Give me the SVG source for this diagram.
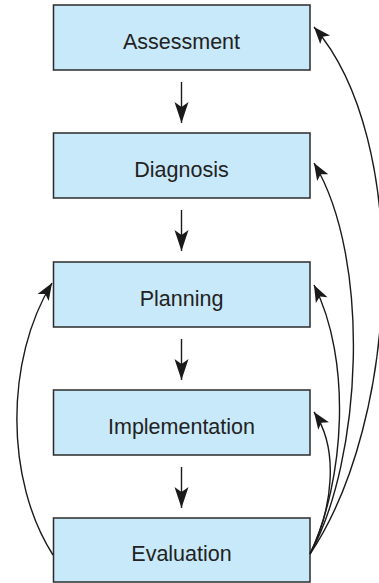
<svg xmlns="http://www.w3.org/2000/svg" width="379" height="583" viewBox="0 0 379 583">
<defs>
<style>
.box{fill:#c8e9f9;stroke:#2b2b2b;stroke-width:1.5}
.lbl{font-family:"Liberation Sans",Arial,sans-serif;font-size:21.5px;fill:#222;text-anchor:middle}
.ln{fill:none;stroke:#1a1a1a;stroke-width:1.4}
</style>
<marker id="big" markerUnits="userSpaceOnUse" markerWidth="24" markerHeight="16" refX="21" refY="7" orient="auto" overflow="visible">
<path d="M0,0 L21,7 L0,14 L5,7 Z" fill="#1a1a1a"/>
</marker>
<marker id="sm" markerUnits="userSpaceOnUse" markerWidth="20" markerHeight="14" refX="17" refY="6.5" orient="auto" overflow="visible">
<path d="M0,0 L17,6.5 L0,13 L4,6.5 Z" fill="#1a1a1a"/>
</marker>
</defs>
<g id="assessment"><rect class="box" x="53.5" y="5" width="256.5" height="65"/><text class="lbl" x="181.5" y="49">Assessment</text></g>
<g id="diagnosis"><rect class="box" x="53.5" y="133" width="256.5" height="65"/><text class="lbl" x="181.5" y="177">Diagnosis</text></g>
<g id="planning"><rect class="box" x="53.5" y="262" width="256.5" height="65"/><text class="lbl" x="181.5" y="306">Planning</text></g>
<g id="implementation"><rect class="box" x="53.5" y="390" width="256.5" height="65"/><text class="lbl" x="181.5" y="434">Implementation</text></g>
<g id="evaluation"><rect class="box" x="53.5" y="518" width="256.5" height="64"/><text class="lbl" x="181.5" y="561">Evaluation</text></g>
<g id="connectors">
<line class="ln" x1="181.5" y1="82" x2="181.5" y2="123" marker-end="url(#big)"/>
<line class="ln" x1="181.5" y1="210" x2="181.5" y2="251" marker-end="url(#big)"/>
<line class="ln" x1="181.5" y1="339" x2="181.5" y2="380" marker-end="url(#big)"/>
<line class="ln" x1="181.5" y1="467" x2="181.5" y2="508" marker-end="url(#big)"/>
<path class="ln" d="M310,554 C332,510 340,450 314,412" marker-end="url(#sm)"/>
<path class="ln" d="M310,554 C345,480 352,360 314,285" marker-end="url(#sm)"/>
<path class="ln" d="M310,554 C362,460 372,260 314,163" marker-end="url(#sm)"/>
<path class="ln" d="M310,554 C400,420 412,140 314,27" marker-end="url(#sm)"/>
<path class="ln" d="M53,555 C5,480 5,360 52,283" marker-end="url(#sm)"/>
</g>
</svg>
